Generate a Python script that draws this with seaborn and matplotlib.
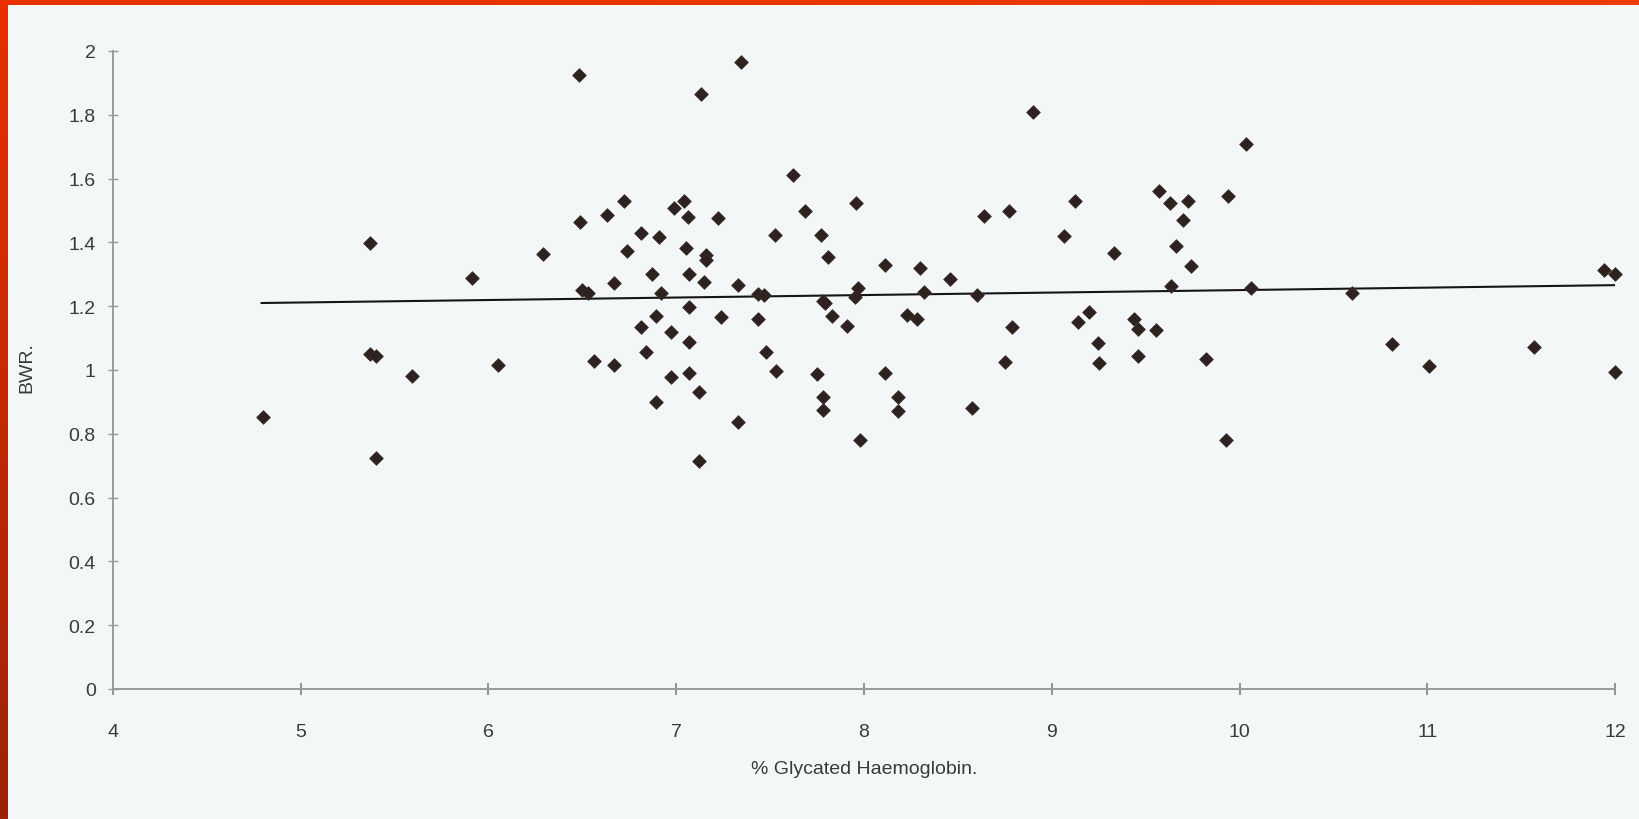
import numpy as np
import pandas as pd
import matplotlib
matplotlib.use("Agg")
import matplotlib.pyplot as plt
import seaborn as sns

# ---- data ----
hba1c = [4.80, 5.37, 5.37, 5.40, 5.40, 5.59, 5.91, 6.05, 6.29, 6.48,
         6.49, 6.50, 6.53, 6.56, 6.63, 6.67, 6.67, 6.72, 6.74, 6.81,
         6.81, 6.84, 6.87, 6.89, 6.89, 6.91, 6.92, 6.97, 6.97, 6.99,
         7.04, 7.05, 7.06, 7.07, 7.07, 7.07, 7.07, 7.12, 7.12, 7.13,
         7.15, 7.16, 7.16, 7.22, 7.24, 7.33, 7.33, 7.345, 7.435, 7.435,
         7.47, 7.48, 7.525, 7.53, 7.62, 7.685, 7.75, 7.77, 7.78, 7.78,
         7.78, 7.79, 7.81, 7.83, 7.91, 7.95, 7.96, 7.97, 7.98, 8.11,
         8.11, 8.18, 8.18, 8.23, 8.28, 8.30, 8.32, 8.46, 8.575, 8.60,
         8.64, 8.75, 8.77, 8.79, 8.90, 9.065, 9.125, 9.14, 9.20, 9.245,
         9.25, 9.33, 9.44, 9.46, 9.46, 9.555, 9.57, 9.63, 9.635, 9.66,
         9.70, 9.725, 9.74, 9.82, 9.93, 9.94, 10.035, 10.06, 10.60, 10.81,
         11.01, 11.57, 11.94, 12.00, 12.00]
bwr = [0.853, 1.398, 1.050, 1.045, 0.724, 0.981, 1.288, 1.016, 1.364, 1.925,
       1.464, 1.252, 1.242, 1.028, 1.486, 1.273, 1.016, 1.530, 1.373, 1.429,
       1.135, 1.056, 1.300, 1.169, 0.900, 1.416, 1.240, 1.120, 0.978, 1.507,
       1.530, 1.383, 1.480, 1.300, 1.197, 1.088, 0.990, 0.930, 0.715, 1.865,
       1.275, 1.360, 1.345, 1.476, 1.166, 1.266, 0.837, 1.965, 1.238, 1.160,
       1.235, 1.056, 1.424, 0.996, 1.611, 1.500, 0.986, 1.424, 1.216, 0.915,
       0.874, 1.210, 1.354, 1.170, 1.138, 1.229, 1.524, 1.258, 0.780, 1.329,
       0.990, 0.915, 0.870, 1.172, 1.160, 1.320, 1.245, 1.285, 0.880, 1.235,
       1.483, 1.025, 1.498, 1.135, 1.808, 1.420, 1.530, 1.150, 1.182, 1.085,
       1.022, 1.367, 1.160, 1.128, 1.044, 1.125, 1.561, 1.523, 1.263, 1.389,
       1.470, 1.530, 1.326, 1.034, 0.780, 1.545, 1.710, 1.257, 1.241, 1.080,
       1.013, 1.072, 1.313, 1.300, 0.993]

trend_x = [4.79, 12.0]
trend_y = [1.210, 1.266]

x_ticks = [4, 5, 6, 7, 8, 9, 10, 11, 12]
x_tick_labels = ["4", "5", "6", "7", "8", "9", "10", "11", "12"]
y_ticks = [0, 0.2, 0.4, 0.6, 0.8, 1.0, 1.2, 1.4, 1.6, 1.8, 2.0]
y_tick_labels = ["0", "0.2", "0.4", "0.6", "0.8", "1", "1.2", "1.4", "1.6", "1.8", "2"]

x_label = "% Glycated Haemoglobin."
y_label = "BWR."

# ---- styling ----
sns.set_theme(style="white")
plt.rcParams['font.family'] = ['Liberation Sans', 'DejaVu Sans']

bg = '#f4f7f7'
text_col = '#3a3a3a'
W, H = 1639, 820

fig = plt.figure(figsize=(W / 100, H / 100), dpi=100, facecolor=bg)

# red scan border (top and left)
top_ax = fig.add_axes([0, 1 - 6 / H, 1, 6 / H])
top_ax.imshow(np.linspace(0, 1, 50).reshape(1, -1), aspect='auto',
              cmap=matplotlib.colors.LinearSegmentedColormap.from_list('t', ['#e83000', '#f03a00']))
top_ax.set_axis_off()
left_ax = fig.add_axes([0, 0, 8 / W, 1])
left_ax.imshow(np.linspace(0, 1, 100).reshape(-1, 1), aspect='auto',
               cmap=matplotlib.colors.LinearSegmentedColormap.from_list('l', ['#e83000', '#c42a04', '#9c2208']))
left_ax.set_axis_off()

x0, x1, y0, y1 = 113, 1615, 52, 690
ax = fig.add_axes([x0 / W, 1 - y1 / H, (x1 - x0) / W, (y1 - y0) / H])
ax.set_facecolor(bg)

df = pd.DataFrame({'hba1c': hba1c, 'bwr': bwr})
sns.lineplot(x=trend_x, y=trend_y, color='#151515', linewidth=1.5, ax=ax, zorder=2)
sns.scatterplot(data=df, x='hba1c', y='bwr', marker='D', s=48, color='#2e2220',
                edgecolor='#3a2c2a', linewidth=0.6, ax=ax, zorder=3, clip_on=False)

ax.set_xlim(4, 12)
ax.set_ylim(0, 2)
ax.set_xticks(x_ticks)
ax.set_xticklabels(x_tick_labels)
ax.set_yticks(y_ticks)
ax.set_yticklabels(y_tick_labels)

for s in ['top', 'right']:
    ax.spines[s].set_visible(False)
for s in ['left', 'bottom']:
    ax.spines[s].set_color('#9a9a9a')
    ax.spines[s].set_linewidth(1.4)

ax.tick_params(axis='x', direction='inout', length=9, width=1.1, color='#777777',
               labelsize=14, labelcolor=text_col, pad=20, bottom=True)
ax.tick_params(axis='y', direction='inout', length=7, width=1.0, color='#999999',
               labelsize=14, labelcolor=text_col, pad=9, left=True)

ax.set_xlabel(x_label, fontsize=14, color=text_col)
ax.set_ylabel(y_label, fontsize=14, color=text_col)
ax.xaxis.set_label_coords(0.5, -0.112)
ax.yaxis.set_label_coords(-0.052, 0.505)

fig.savefig('out.png', dpi=100, facecolor=bg)
